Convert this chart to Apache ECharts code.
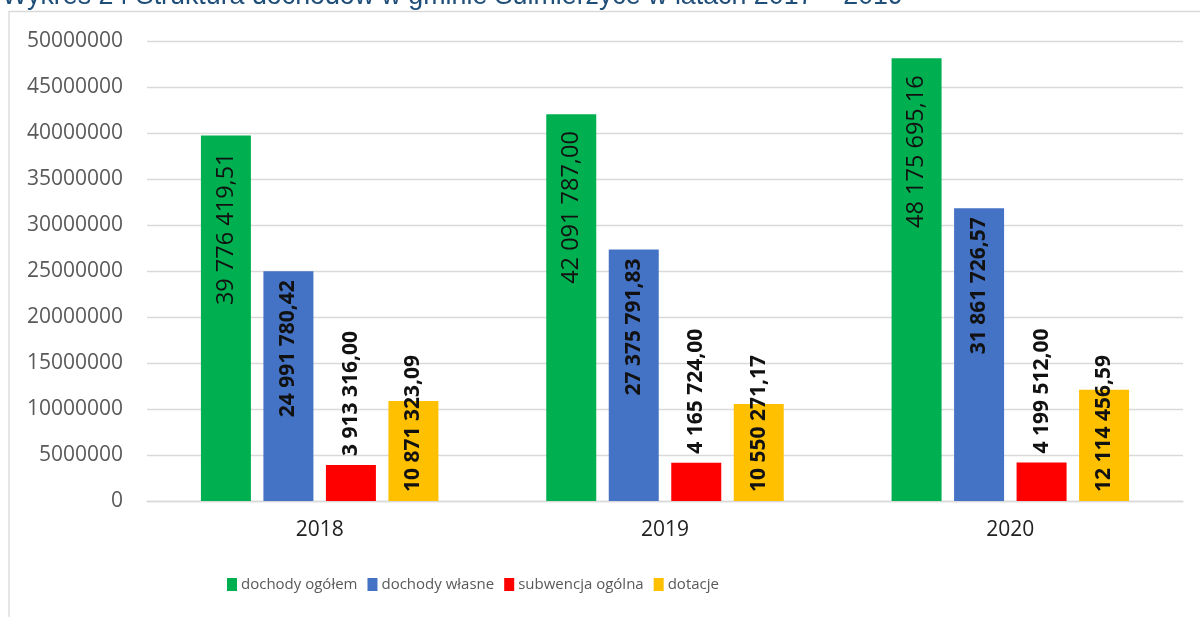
<!DOCTYPE html>
<html>
<head>
<meta charset="utf-8">
<script src="https://cdn.jsdelivr.net/npm/echarts@6/dist/echarts.min.js"></script>
<style>
  html, body { margin: 0; padding: 0; background: #fff; }
  #chart { width: 1200px; height: 617px; }
</style>
</head>
<body>
<div id="chart"></div>
<script>
const titleText = 'Wykres 24 Struktura dochodów w gminie Sulmierzyce w latach 2017 – 2019';
const categories = ['2018', '2019', '2020'];
const seriesNames = ['dochody ogółem', 'dochody własne', 'subwencja ogólna', 'dotacje'];
const dochodyOgolem = [39776419.51, 42091787.00, 48175695.16];
const dochodyWlasne = [24991780.42, 27375791.83, 31861726.57];
const subwencjaOgolna = [3913316.00, 4165724.00, 4199512.00];
const dotacje = [10871323.09, 10550271.17, 12114456.59];
const yTicks = { min: 0, max: 50000000, interval: 5000000 };

const colors = ['#00B050', '#4472C4', '#FF0000', '#FFC000'];
const FONT = 'Open Sans';

function fmtPL(v) {
  const parts = v.toFixed(2).split('.');
  const intPart = parts[0].replace(/\B(?=(\d{3})+(?!\d))/g, ' ');
  return intPart + ',' + parts[1];
}

function mkLabel(position, align, distance, bold, size) {
  return {
    show: true,
    position: position,
    rotate: 90,
    align: align,
    verticalAlign: 'middle',
    distance: distance,
    fontFamily: FONT,
    fontSize: size,
    fontWeight: bold ? 'bold' : 'normal',
    color: '#111',
    formatter: p => fmtPL(p.value)
  };
}

const dataSets = [dochodyOgolem, dochodyWlasne, subwencjaOgolna, dotacje];
const labels = [
  mkLabel('insideTop', 'right', 17, false, 23.5),
  mkLabel('insideTop', 'right', 9, true, 21),
  mkLabel('top', 'left', 9, true, 21),
  mkLabel('insideBottom', 'left', 9, true, 21)
];

const chart = echarts.init(document.getElementById('chart'), null, { renderer: 'canvas' });
chart.setOption({
  backgroundColor: '#fff',
  animation: false,
  graphic: [
    {
      type: 'rect', z: -10, silent: true,
      shape: { x: 9, y: 11.5, width: 1300, height: 700 },
      style: { fill: '#fff', stroke: '#D9D9D9', lineWidth: 1.3 }
    },
    {
      type: 'text', left: 2, top: -17, silent: true,
      style: { text: titleText, fill: '#1F4E79', font: '26.8px "Liberation Sans", Arial, sans-serif' }
    }
  ],
  grid: { left: 147, right: 17, top: 41.5, bottom: 116, containLabel: false },
  legend: {
    left: 227, top: 577, padding: 0,
    itemWidth: 10, itemHeight: 13, itemGap: 10,
    icon: 'rect',
    textStyle: { fontFamily: FONT, fontSize: 15, color: '#595959', padding: [0, 0, 0, -1] },
    data: seriesNames
  },
  xAxis: {
    type: 'category',
    data: categories,
    axisLine: { show: true, lineStyle: { color: '#D9D9D9', width: 1.3 } },
    axisTick: { show: false },
    axisLabel: { fontFamily: FONT, fontSize: 21, color: '#222', margin: 19 }
  },
  yAxis: {
    type: 'value',
    min: yTicks.min, max: yTicks.max, interval: yTicks.interval,
    axisLine: { show: false },
    axisTick: { show: false },
    splitLine: { lineStyle: { color: '#D9D9D9', width: 1.3 } },
    axisLabel: { fontFamily: FONT, fontSize: 21, color: '#595959', margin: 24, formatter: v => String(v) }
  },
  series: seriesNames.map((name, i) => ({
    name: name,
    type: 'bar',
    data: dataSets[i],
    barWidth: 50,
    barGap: '25%',
    itemStyle: { color: colors[i] },
    label: labels[i]
  }))
});
</script>
</body>
</html>
